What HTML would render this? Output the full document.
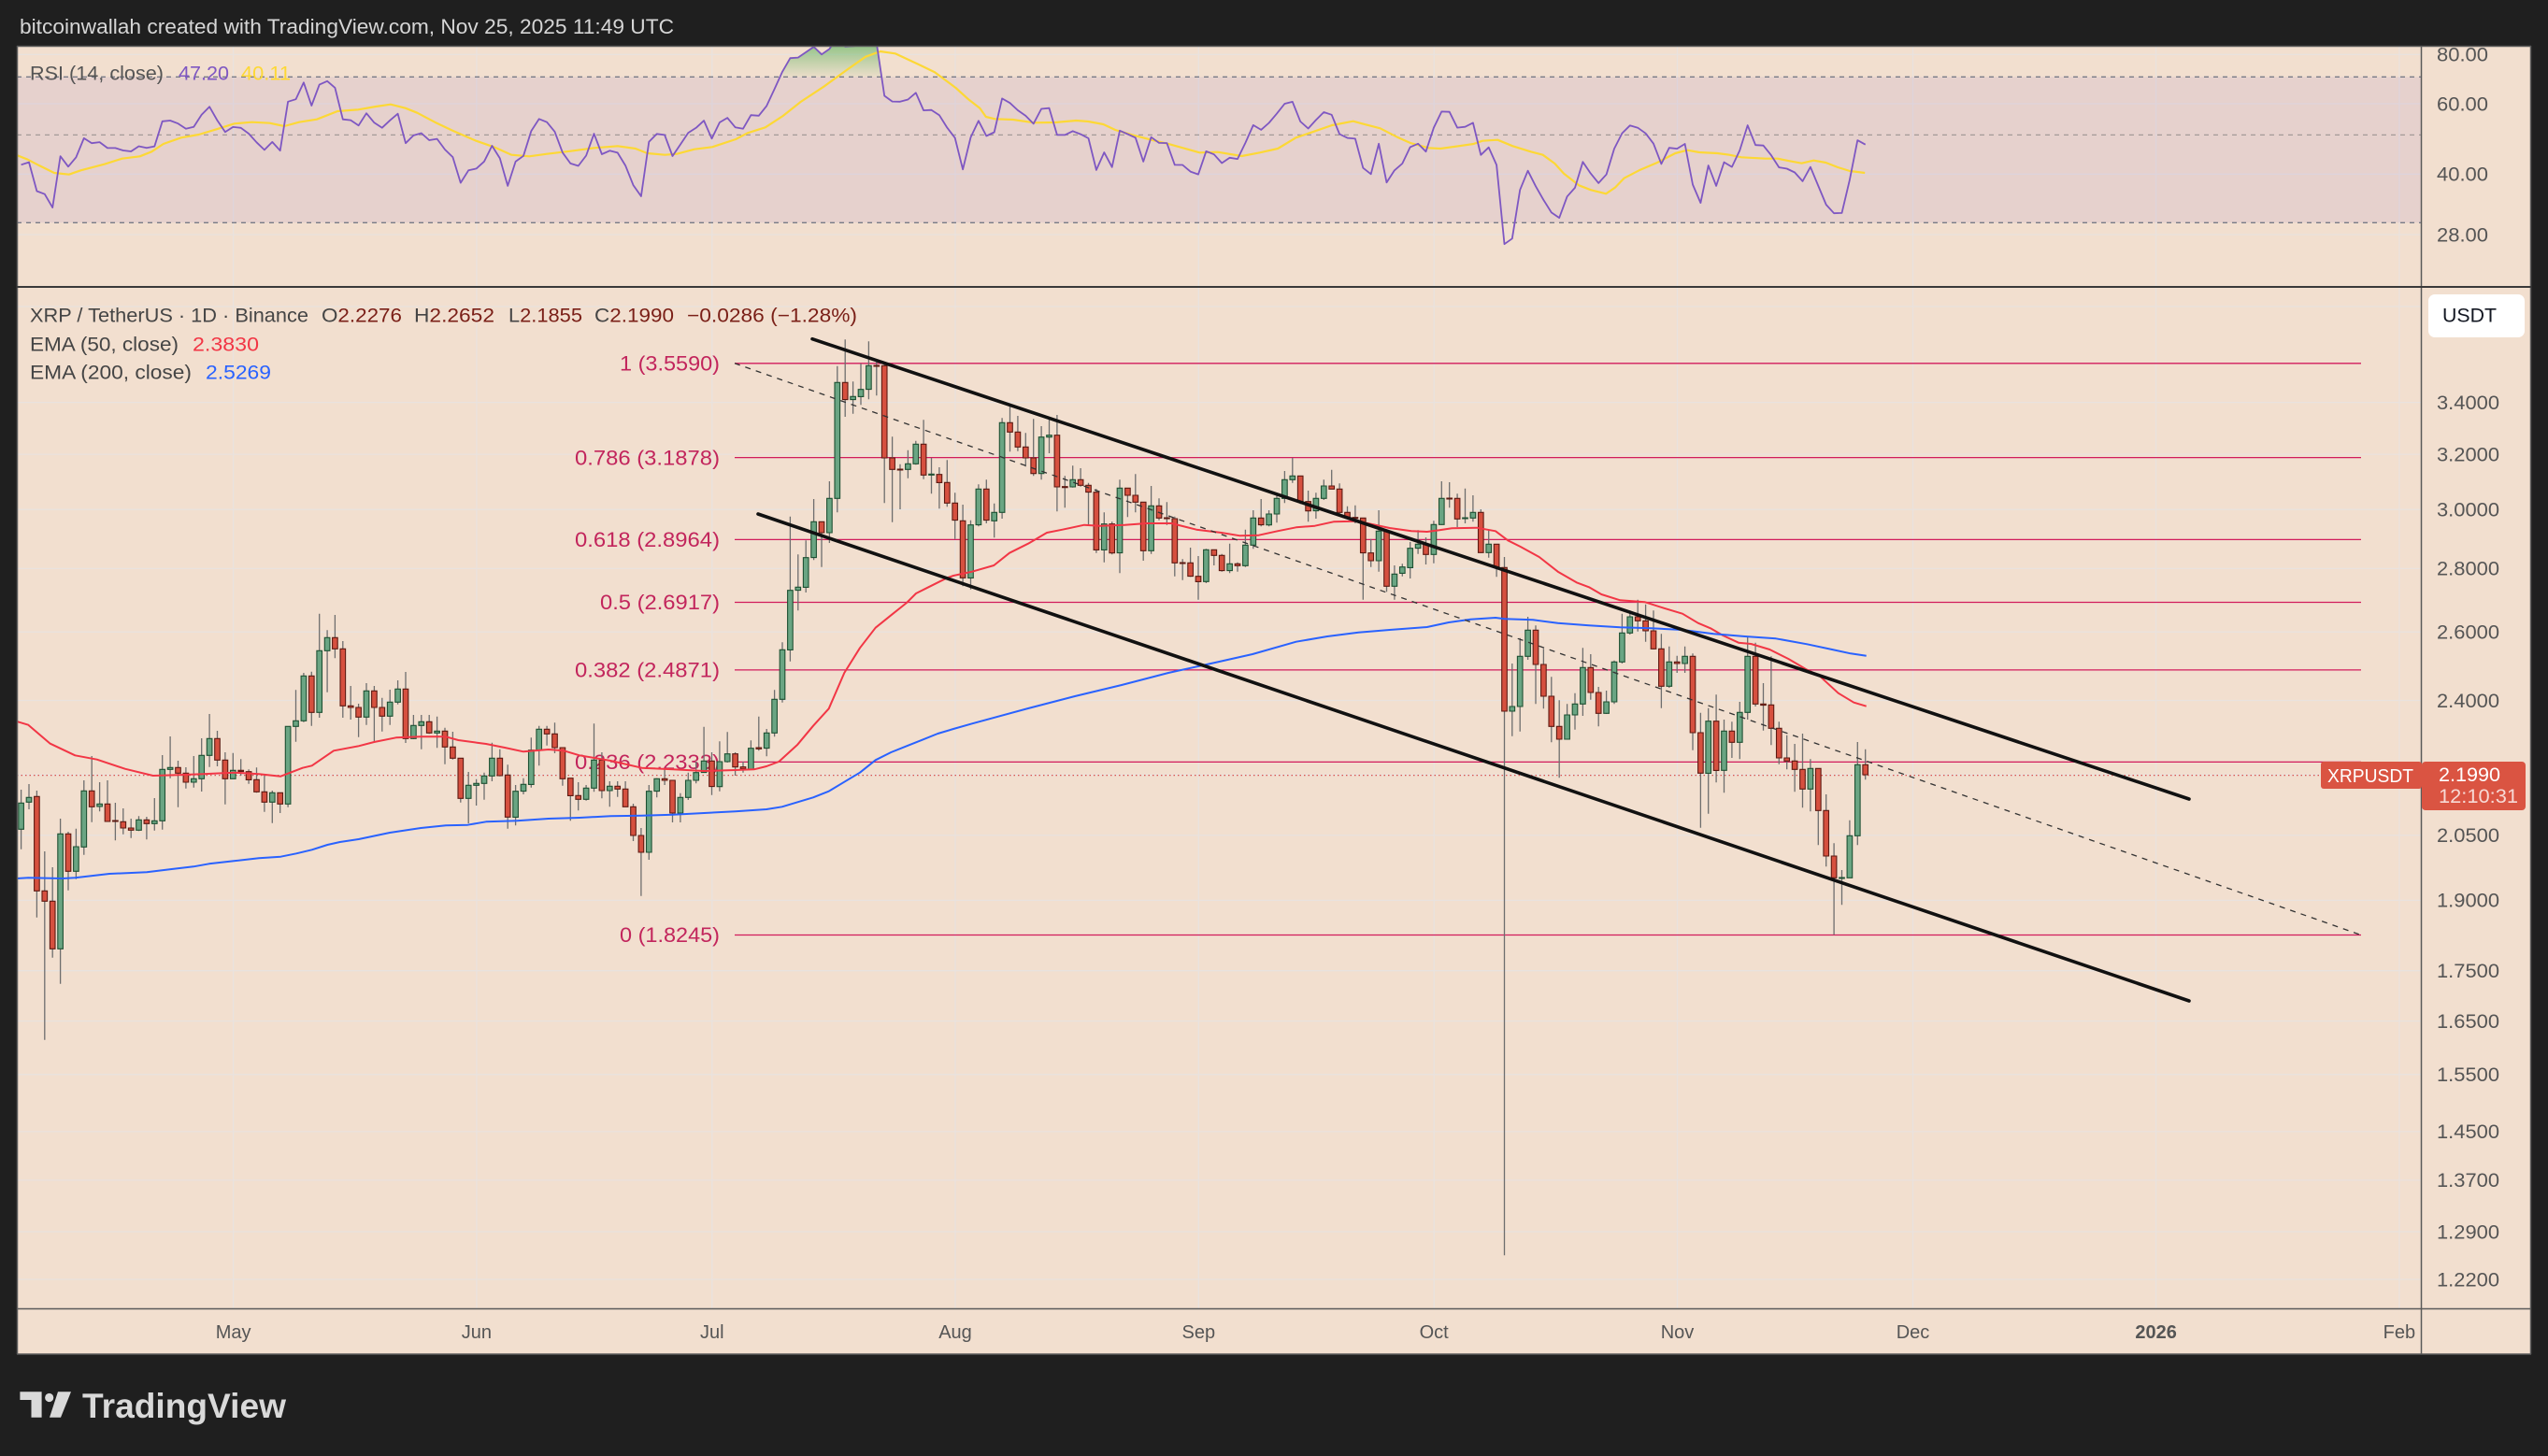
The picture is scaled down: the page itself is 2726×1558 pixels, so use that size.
<!DOCTYPE html>
<html><head><meta charset="utf-8"><style>
html,body{margin:0;padding:0;background:#1f1f1f;}
svg{display:block;}
text{font-family:"Liberation Sans",sans-serif;}
</style></head><body>
<svg id="s" xmlns="http://www.w3.org/2000/svg" width="2726" height="1558" viewBox="0 0 2726 1558">
<defs>
<clipPath id="rc"><rect x="18" y="49.5" width="2572" height="257"/></clipPath>
<clipPath id="mc"><rect x="18" y="308" width="2572" height="1092"/></clipPath>
<clipPath id="oc"><rect x="18" y="40" width="2572" height="42.3"/></clipPath>
<linearGradient id="og" gradientUnits="userSpaceOnUse" x1="0" y1="49" x2="0" y2="82.3">
<stop offset="0" stop-color="#4caf50" stop-opacity="0.55"/><stop offset="1" stop-color="#4caf50" stop-opacity="0.04"/></linearGradient>
</defs>
<rect x="0" y="0" width="2726" height="1558" fill="#1f1f1f"/>
<rect x="18" y="49" width="2690" height="1400" fill="#f2dfcf"/>
<!-- grid -->
<path d="M249.6 49.5V1400M509.9 49.5V1400M761.8 49.5V1400M1022 49.5V1400M1282.3 49.5V1400M1534.2 49.5V1400M1794.5 49.5V1400M2046.5 49.5V1400M2306.6 49.5V1400M2566.9 49.5V1400
M18 58.3H2590M18 111H2590M18 186.3H2590M18 251H2590
M18 328H2590M18 430.6H2590M18 486.1H2590M18 545.2H2590M18 608.4H2590M18 676.2H2590M18 749.5H2590M18 829.2H2590M18 893.8H2590M18 963.4H2590M18 1038.7H2590M18 1092.6H2590M18 1149.8H2590M18 1210.9H2590M18 1262.9H2590M18 1318H2590M18 1369H2590" stroke="#e9e2de" stroke-width="1.3" fill="none"/>
<!-- RSI band -->
<rect x="18" y="82.3" width="2572" height="156" fill="#7e57c2" fill-opacity="0.1"/>
<path d="M18 82.3H2590M18 238.3H2590" stroke="#787b86" stroke-width="1.3" stroke-dasharray="5 5" fill="none"/>
<path d="M18 144.4H2590" stroke="#a39a98" stroke-width="1.3" stroke-dasharray="5 5" fill="none"/>
<g clip-path="url(#rc)">
<g clip-path="url(#oc)"><polygon id="rsifill" points="" fill="url(#og)"/></g>
<polyline fill="none" stroke="#fdd835" stroke-width="2.2" stroke-linejoin="round" points="17,165.7 29.6,170.7 42.3,177.3 58,185 73.8,186.7 86.4,182.3 111.7,175.7 130.6,169.7 149.6,167.3 162.2,162.3 174.8,154 193.8,147.3 212.7,144 231.6,138.3 250.6,132.3 269.5,130.7 288.5,131.7 304.2,135 320,130.7 339,127.7 361.1,119 383.2,117.3 402.1,114 417.9,111.7 433.7,115.7 446.3,120.7 465.2,130.7 484.2,139.7 509.4,150.7 528.4,157.3 547.3,165.7 566.2,167.3 585.2,164.7 610.4,161.7 635.7,158.3 660.9,156.3 679.9,159 692.5,164 711.4,165.7 724.1,164.7 743,159.7 762,157.3 787.2,149 799.8,142.3 818.8,136.3 837.7,124 856.6,109 881.9,92.3 907.1,74 926.1,60.7 941.9,55 957.7,57.3 982.9,69 1000,77.3 1022.5,94 1035.4,105.7 1048.3,115.7 1054.8,125 1064.4,127.3 1083.7,128 1106.3,131.3 1128.8,131 1151.4,129 1164.3,130 1180.4,133 1193.2,139 1212.6,144.7 1231.9,149.7 1251.2,154.3 1270.5,159.7 1283.4,163.3 1302.7,162.7 1328.5,167 1347.8,163.3 1367.1,159 1386.5,147.3 1405.8,140.7 1425.1,134 1447.7,129.7 1457.3,132.3 1476.6,137.3 1496,147.3 1508.9,153 1528.2,158.3 1541.1,159 1560.4,156.3 1576.5,154 1586.1,150.7 1602.3,149.7 1618.4,156.3 1637.7,162.3 1650.6,165.7 1663.4,175 1673.1,185.7 1689.2,198.3 1702.1,203.3 1718.2,207.3 1727.9,200.7 1737.5,190.7 1753.6,182.3 1773,174 1792.3,164 1805.2,160.7 1818,163 1837.4,164 1850.2,165.7 1863.1,168.3 1888.9,169.7 1901.8,169.7 1914.7,172.3 1927.5,174.7 1940.4,171.7 1953.3,174 1966.2,179 1979.1,183 1995.2,185"/>
<polyline id="rsi" fill="none" stroke="#7e57c2" stroke-width="1.8" stroke-linejoin="round" points=""/>
</g>
<!-- main pane -->
<g clip-path="url(#mc)">
<path d="M786 388.8H2526M786 489.6H2526M786 577.4H2526M786 644.5H2526M786 716.9H2526M786 815.4H2526M786 1000.5H2526" stroke="#d11c5c" stroke-width="1.3" fill="none"/>
<g font-size="22" fill="#c2255c" text-anchor="end">
<text x="770" y="396.5" textLength="107" lengthAdjust="spacingAndGlyphs">1 (3.5590)</text>
<text x="770" y="497.3" textLength="155" lengthAdjust="spacingAndGlyphs">0.786 (3.1878)</text>
<text x="770" y="585.1" textLength="155" lengthAdjust="spacingAndGlyphs">0.618 (2.8964)</text>
<text x="770" y="652.2" textLength="128" lengthAdjust="spacingAndGlyphs">0.5 (2.6917)</text>
<text x="770" y="724.6" textLength="155" lengthAdjust="spacingAndGlyphs">0.382 (2.4871)</text>
<text x="770" y="823.1" textLength="155" lengthAdjust="spacingAndGlyphs">0.236 (2.2333)</text>
<text x="770" y="1008.2" textLength="107" lengthAdjust="spacingAndGlyphs">0 (1.8245)</text>
</g>
<path d="M18 829.6H2483" stroke="#d9534f" stroke-width="1.3" stroke-dasharray="1.5 3" fill="none"/>
<path id="wicks" d="" stroke="#6e6e6e" stroke-width="1.3" fill="none"/>
<path id="bg" d="" fill="#6aa583" stroke="#1e5133" stroke-width="1.1"/>
<path id="br" d="" fill="#d6503f" stroke="#5e1a12" stroke-width="1.1"/>
<polyline fill="none" stroke="#f23645" stroke-width="2" stroke-linejoin="round" points="17,771.7 30.3,775.7 53.7,795.7 80.3,808.3 103.7,812.7 133.7,822.7 163.7,830 190.3,829.3 217,828.3 250.3,826.7 277,828.3 300.3,830.7 323.7,821.7 333.7,819.3 357,803.3 383.7,798.3 400.3,794 423.7,789.3 450.3,788.3 477,788.3 490.3,792 510.3,794.7 520,796 540,800 560,804.3 586.7,802 603.3,803.3 620,808.3 653.3,814 686.7,821.7 720,823.3 753.3,825 786.7,824 806.7,823.3 820,820 833.3,815 853.3,796.7 870,776.7 886.7,758.3 903.3,720 920,693.3 936.7,671.7 953.3,658.3 970,645 980,635 993.3,628.3 1013.3,618.3 1020,616 1040,611.7 1063.3,605 1080,591.7 1100,581.7 1120,570 1136.7,566.7 1160,561.7 1176.7,562.7 1203.3,561.7 1226.7,560 1253.3,560 1280,566.7 1306.7,570 1326.7,573.3 1346.7,572.7 1366.7,568.3 1386.7,564.3 1406.7,562.7 1426.7,558.3 1450,557.7 1463.3,560 1486.7,565 1510,568.3 1526.7,569 1540,567.3 1553.3,565.3 1580,564.7 1600,568.3 1613.3,578.3 1626.7,585 1646.7,596 1666.7,611.7 1686.7,623.3 1700,628.3 1713.3,636 1733.3,642.3 1760,644.3 1780,650.7 1800,656.7 1816.7,666.7 1830,672.3 1843.3,680 1860,687.7 1873.3,689 1893.3,695 1913.3,705 1933.3,716.7 1946.7,723.3 1966.7,741.7 1983.3,751.7 1996.7,755.7"/>
<polyline fill="none" stroke="#2962ff" stroke-width="2" stroke-linejoin="round" points="17,940 30.3,939.3 67,940 80.3,939.3 117,935 157,933.3 183.7,930 207,927.3 223.7,924.3 250.3,921.3 277,918.3 300.3,916.7 317,913.3 333.7,909.3 350.3,904 363.7,901 383.7,898 417,891 450.3,886 477,883.3 500.3,882.7 520,879.3 553.3,878.3 586.7,876 620,875 653.3,873.3 686.7,872.7 720,871.7 753.3,870 786.7,868.3 820,866 836.7,863.3 853.3,858.3 870,853.3 886.7,846.7 903.3,836.7 920,826.7 936.7,813.3 953.3,805 970,798.3 986.7,791.7 1003.3,785 1020,780 1040,774.3 1100,758 1150,745 1200,733 1250,720 1300,709 1340,700 1386.7,686.7 1420,681 1453.3,676.7 1486.7,674 1526.7,671 1550,666 1573.3,662.7 1600,661 1610,662.3 1640,663.3 1666.7,666.7 1700,669.3 1733.3,671.3 1766.7,672.3 1800,674 1833.3,678.3 1866.7,681 1900,683.3 1933.3,689.3 1960,695 1980,699.3 1996.7,701.7"/>
<path d="M786 388.8L2526 1000.5" stroke="#333" stroke-width="1.3" stroke-dasharray="6 6" fill="none"/>
<path d="M869 362.7L2342 855M811 550L2342 1071" stroke="#111" stroke-width="3.6" stroke-linecap="round" fill="none"/>
</g>
<!-- frame -->
<path d="M18 49.5H2708M18 1449H2708M18.5 49V1449M2707.5 49V1449M2590.5 49V1449M18 1400.5H2708" stroke="#5a5a5a" stroke-width="1.5" fill="none"/>
<path d="M18 307H2708" stroke="#3a3a3a" stroke-width="2" fill="none"/>
<!-- header -->
<text x="21" y="36" font-size="22" fill="#d6d6d6" textLength="700" lengthAdjust="spacingAndGlyphs">bitcoinwallah created with TradingView.com, Nov 25, 2025 11:49 UTC</text>
<!-- RSI legend -->
<g font-size="21">
<text x="32" y="85.5" fill="#555" textLength="143" lengthAdjust="spacingAndGlyphs">RSI (14, close)</text>
<text x="191" y="85.5" fill="#7e57c2" textLength="54" lengthAdjust="spacingAndGlyphs">47.20</text>
<text x="258" y="85.5" fill="#fdd835" textLength="53" lengthAdjust="spacingAndGlyphs">40.11</text>
<text x="32" y="344.5" fill="#454545" textLength="298" lengthAdjust="spacingAndGlyphs">XRP / TetherUS · 1D · Binance</text>
<text x="344" y="344.5" textLength="86" lengthAdjust="spacingAndGlyphs"><tspan fill="#454545">O</tspan><tspan fill="#7a1f17">2.2276</tspan></text>
<text x="443" y="344.5" textLength="86" lengthAdjust="spacingAndGlyphs"><tspan fill="#454545">H</tspan><tspan fill="#7a1f17">2.2652</tspan></text>
<text x="544" y="344.5" textLength="79" lengthAdjust="spacingAndGlyphs"><tspan fill="#454545">L</tspan><tspan fill="#7a1f17">2.1855</tspan></text>
<text x="636" y="344.5" textLength="85" lengthAdjust="spacingAndGlyphs"><tspan fill="#454545">C</tspan><tspan fill="#7a1f17">2.1990</tspan></text>
<text x="735" y="344.5" fill="#7a1f17" textLength="182" lengthAdjust="spacingAndGlyphs">−0.0286 (−1.28%)</text>
<text x="32" y="375.5" fill="#454545" textLength="159" lengthAdjust="spacingAndGlyphs">EMA (50, close)</text>
<text x="206" y="375.5" fill="#f23645" textLength="71" lengthAdjust="spacingAndGlyphs">2.3830</text>
<text x="32" y="405.5" fill="#454545" textLength="173" lengthAdjust="spacingAndGlyphs">EMA (200, close)</text>
<text x="220" y="405.5" fill="#2962ff" textLength="70" lengthAdjust="spacingAndGlyphs">2.5269</text>
</g>
<!-- axes labels -->
<g font-size="21" fill="#555">
<text x="2607" y="65.6" textLength="55" lengthAdjust="spacingAndGlyphs">80.00</text>
<text x="2607" y="118.3" textLength="55" lengthAdjust="spacingAndGlyphs">60.00</text>
<text x="2607" y="193.6" textLength="55" lengthAdjust="spacingAndGlyphs">40.00</text>
<text x="2607" y="258.3" textLength="55" lengthAdjust="spacingAndGlyphs">28.00</text>
<text x="2607" y="438" textLength="67" lengthAdjust="spacingAndGlyphs">3.4000</text>
<text x="2607" y="493.4" textLength="67" lengthAdjust="spacingAndGlyphs">3.2000</text>
<text x="2607" y="552.5" textLength="67" lengthAdjust="spacingAndGlyphs">3.0000</text>
<text x="2607" y="615.7" textLength="67" lengthAdjust="spacingAndGlyphs">2.8000</text>
<text x="2607" y="683.5" textLength="67" lengthAdjust="spacingAndGlyphs">2.6000</text>
<text x="2607" y="756.8" textLength="67" lengthAdjust="spacingAndGlyphs">2.4000</text>
<text x="2607" y="901.1" textLength="67" lengthAdjust="spacingAndGlyphs">2.0500</text>
<text x="2607" y="970.7" textLength="67" lengthAdjust="spacingAndGlyphs">1.9000</text>
<text x="2607" y="1046" textLength="67" lengthAdjust="spacingAndGlyphs">1.7500</text>
<text x="2607" y="1099.9" textLength="67" lengthAdjust="spacingAndGlyphs">1.6500</text>
<text x="2607" y="1157.1" textLength="67" lengthAdjust="spacingAndGlyphs">1.5500</text>
<text x="2607" y="1218.2" textLength="67" lengthAdjust="spacingAndGlyphs">1.4500</text>
<text x="2607" y="1270.2" textLength="67" lengthAdjust="spacingAndGlyphs">1.3700</text>
<text x="2607" y="1325.3" textLength="67" lengthAdjust="spacingAndGlyphs">1.2900</text>
<text x="2607" y="1376.3" textLength="67" lengthAdjust="spacingAndGlyphs">1.2200</text>
</g>
<g font-size="20" fill="#555" text-anchor="middle">
<text x="249.6" y="1432">May</text>
<text x="509.9" y="1432">Jun</text>
<text x="761.8" y="1432">Jul</text>
<text x="1022" y="1432">Aug</text>
<text x="1282.3" y="1432">Sep</text>
<text x="1534.2" y="1432">Oct</text>
<text x="1794.5" y="1432">Nov</text>
<text x="2046.5" y="1432">Dec</text>
<text x="2306.6" y="1432" font-weight="bold">2026</text>
<text x="2566.9" y="1432">Feb</text>
</g>
<!-- USDT box -->
<rect x="2598" y="315" width="103" height="46" rx="7" fill="#ffffff"/>
<text x="2613" y="344.5" font-size="21" fill="#131722" textLength="58" lengthAdjust="spacingAndGlyphs">USDT</text>
<!-- price labels -->
<rect x="2483" y="815" width="108" height="29" rx="3" fill="#da5442"/>
<text x="2490" y="837" font-size="20" fill="#ffffff" textLength="92" lengthAdjust="spacingAndGlyphs">XRPUSDT</text>
<rect x="2591" y="815" width="111" height="52" rx="4" fill="#da5442"/>
<text x="2609" y="836" font-size="21" fill="#ffffff" textLength="66" lengthAdjust="spacingAndGlyphs">2.1990</text>
<text x="2609" y="859" font-size="21" fill="#ffffff" fill-opacity="0.78" textLength="85" lengthAdjust="spacingAndGlyphs">12:10:31</text>
<!-- logo -->
<g fill="#d9d9d9">
<polygon points="21.4,1489.3 44.6,1489.3 44.6,1516.7 33.5,1516.7 33.5,1498 21.4,1498"/>
<circle cx="52.7" cy="1495.5" r="4.6"/>
<polygon points="62,1489.3 76,1489.3 65,1516.7 53,1516.7"/>
<text x="88" y="1517" font-size="37" font-weight="bold" textLength="218" lengthAdjust="spacingAndGlyphs">TradingView</text>
</g>
</svg>
<script>
(function(){
var X=function(d){return 249.3+d*8.396;};
var L0=1.22378,Y0=430.6,K=915.6;
var price=function(y){return Math.exp(L0-(y-Y0)/K);};
var blocks=[
[620,-27,"g718,802,675,866 g700,715,657,738 r697,1000,678,1085 r1000,1033,873,1478 r1033,1186,924,1214 g817,1186,768,1298 r817,937,810,998 g858,937,800,962 g679,859,645,884 r679,730,567,779 g721,729,651,745 r721,777,645,778 r774,777,717,838 r778,798,735,818 r798,805,768,830 g772,805,760,808 r772,784,762,835 g775,784,702,806 g610,775,564,803 g604,610,504,638 r604,622,582,731 r622,651,603,671 g640,651,567,668 g565,640,510,681 g511,565,432,602 r511,580,486,600 r580,640,555,722 g613,640,557,640 r613,617,577,630 r617,643,610,656 r643,682,604,685 r682,715,627,746 g685,715,678,782 r685,721,685,750 g472,721,472,731 g454,472,355,521 g310,454,300,458 r310,427,296,470 g229,427,110,444 g187,229,163,362 r187,223,114,253 r223,406,198,444 r406,411,342,450 r411,442,399,506 g358,442,333,467 r358,411,342,521 r411,439,380,488 g394,439,354,467 g352,394,324,401 r352,511,297,525 g469,511,435,513 g457,469,435,545 r457,493,435,496 g487,493,440,541 r487,538,476,593 r538,574,489,578 r574,703,574,716 g661,703,618,783 g655,661,641,726 g631,655,620,707 g574,631,524,648 r574,630,545,632"],
[360,35,"r1408,1543,1375,1580 g1460,1543,1440,1570 g1438,1460,1418,1470 g1328,1438,1288,1448 g1261,1328,1250,1378 r1261,1276,1250,1313 r1276,1320,1240,1338 r1320,1420,1320,1442 r1418,1474,1418,1555 r1474,1486,1431,1522 g1450,1486,1440,1490 g1360,1450,1243,1462 r1360,1458,1335,1483 g1444,1458,1428,1510 r1444,1453,1428,1478 r1453,1510,1428,1510 r1510,1602,1500,1620 r1602,1656,1578,1796 g1460,1656,1440,1680 g1420,1460,1418,1480 r1420,1425,1388,1440 r1425,1530,1425,1560 g1480,1530,1466,1560 g1425,1480,1400,1488 g1400,1425,1365,1435 g1363,1400,1253,1400 r1363,1445,1335,1472 g1365,1445,1300,1460 g1340,1365,1270,1368 r1340,1382,1335,1410 r1382,1388,1365,1400 g1322,1390,1297,1392 r1320,1324,1220,1330 g1273,1322,1260,1348 g1165,1273,1135,1285 g1006,1165,982,1175 g815,1006,578,1043 g805,815,700,880 g710,805,655,822 g595,710,522,718 r595,630,595,740 g520,630,465,663 g148,520,95,565 r148,203,10,258 g193,203,145,248 g170,193,87,220 g94,170,16,202 r93,95,72,190 r94,390,90,535 r390,427,322,596 r426,428,410,555 g409,427,365,455 g346,409,335,412 r346,445,268,458 g442,444,390,505 r443,469,420,553 r469,535,397,547"],
[420,92,"r355,410,322,470 r412,595,360,622 g425,595,410,632 g310,425,295,430 r310,410,280,420 g385,412,356,466 g97,385,82,405 r97,127,45,190 r127,175,75,188 r175,210,130,238 r210,260,85,268 g143,260,108,280 g137,143,82,195 r137,303,72,382 r302,304,268,370 g280,303,235,305 r280,298,243,302 r298,320,290,425 r320,505,310,515 g422,505,385,545 r422,515,415,520 g307,515,280,580 r307,330,307,400 r330,352,262,385 r352,508,352,540 g364,508,300,518 r364,403,340,410 r402,404,352,425 r405,547,398,590 r546,548,535,602 r547,590,498,592 r590,607,525,665 g505,607,502,612 r505,523,505,555 r523,572,518,575 g550,572,485,580 r550,556,545,575 g490,556,440,560 g403,490,378,502 r403,425,342,430 g390,425,378,430 g340,390,322,418 g280,340,252,355 g268,280,210,290 r268,350,268,358 r350,380,315,415 g340,380,322,405 g300,340,280,345 r300,310,248,310 r310,385,292,395 r385,400,365,402 r401,403,362,420 r403,515,403,665 r515,540,470,560 g445,540,378,575 r445,622,440,640 g583,622,555,665"],
[460,149,"g440,460,430,470 g380,442,360,477 g367,380,322,398 r367,400,345,432 g304,400,292,428 g220,304,165,305 r219,221,168,250 r220,286,205,312 g282,284,188,300 g265,283,210,295 r265,394,255,395 g367,394,322,410 r367,442,367,472 r442,903,408,2650 g888,903,750,983 g727,888,668,968 g643,727,600,738 r643,753,628,880 r753,855,703,895 r855,952,793,1003 r952,993,868,1117 g915,993,880,993 g880,915,845,962 g763,880,700,918 r763,843,720,866 r843,910,825,952 g873,910,837,912 g745,873,740,880 g652,745,590,750 g600,652,580,657 r600,613,545,647 r613,645,560,680 r645,703,580,705 r703,823,655,893 g745,823,695,828 r745,750,725,780 g727,750,695,780 r727,972,718,1028 r972,1102,908,1277 g935,1102,893,1232 r935,1093,850,1132 g967,1093,930,1165 r967,1003,937,1053 g907,1003,873,1057 g727,907,665,930 r727,880,683,888 r880,884,813,965 r883,958,727,1012 r958,1053,937,1073 r1053,1063,980,1090 r1063,1090,1008,1162 r1090,1153,975,1213 g1087,1153,1057,1225 r1087,1222,1087,1333 r1222,1368,1170,1402 r1368,1438,1327,1621 g1437,1439,1413,1525 g1303,1438,1253,1438 g1075,1303,1002,1333 r1075,1107,1025,1123"]
];
var closes=[],xs=[],firstOpen=null,wk="",bG="",bR="";
blocks.forEach(function(b){
 var y0=b[0],st=b[1];
 b[2].trim().split(/\s+/).forEach(function(tok,i){
  var c=tok.charAt(0);
  var v=tok.slice(1).split(',').map(function(t){return y0+Number(t)/3;});
  var bt=v[0],bb=v[1],wt=v[2],wb=v[3],x=X(st+i);
  var open=(c==='g')?bb:bt,close=(c==='g')?bt:bb;
  if(firstOpen===null)firstOpen=open;
  closes.push(close);xs.push(x);
  wk+="M"+x.toFixed(1)+" "+Math.min(wt,bt).toFixed(1)+"V"+Math.max(wb,bb).toFixed(1);
  var h=Math.max(bb-bt,1);
  var r="M"+(x-2.8).toFixed(1)+" "+bt.toFixed(1)+"h5.6v"+h.toFixed(1)+"h-5.6z";
  if(c==='g')bG+=r;else bR+=r;
 });
});
document.getElementById('wicks').setAttribute('d',wk);
document.getElementById('bg').setAttribute('d',bG);
document.getElementById('br').setAttribute('d',bR);
var G=0.04,Lo=0.062,prev=price(firstOpen),pts=[];
closes.forEach(function(cy,i){
 var p=price(cy),ch=p-prev;prev=p;
 G=(G*13+Math.max(ch,0))/14;Lo=(Lo*13+Math.max(-ch,0))/14;
 var r=100*G/(G+Lo);
 var y=58+(Math.log(80)-Math.log(r))*183.8;
 pts.push(xs[i].toFixed(1)+","+y.toFixed(1));
});
document.getElementById('rsi').setAttribute('points',pts.join(' '));
document.getElementById('rsifill').setAttribute('points',pts.join(' ')+" "+xs[xs.length-1].toFixed(1)+",82.3 "+xs[0].toFixed(1)+",82.3");
})();
</script>
</body></html>
